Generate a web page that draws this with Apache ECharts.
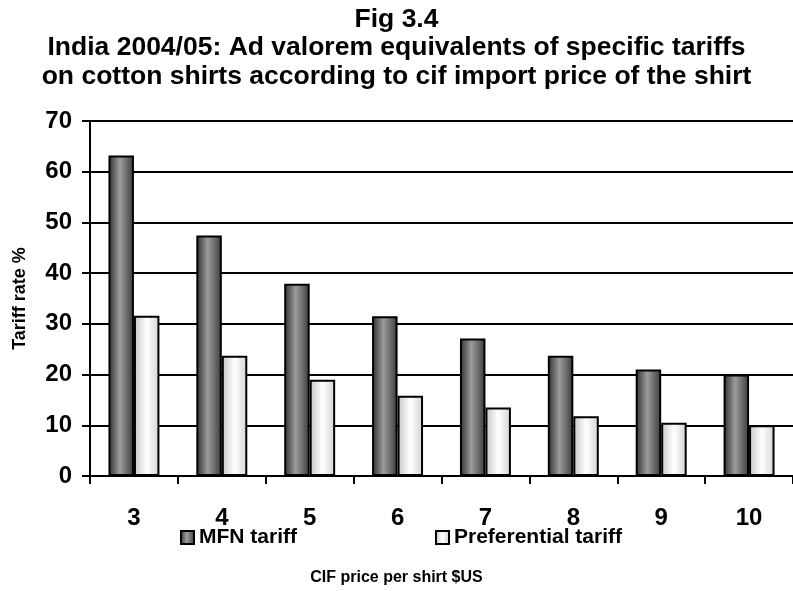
<!DOCTYPE html>
<html>
<head>
<meta charset="utf-8">
<script src="https://cdn.jsdelivr.net/npm/echarts@6/dist/echarts.min.js"></script>
<style>
  html, body { margin: 0; padding: 0; background: #fff; }
  #chart { width: 793px; height: 591px; }
</style>
</head>
<body>
<div id="chart"></div>
<script>
  // data
  const prices = ["3", "4", "5", "6", "7", "8", "9", "10"];
  const mfnTariff = [63.2, 47.4, 37.9, 31.5, 27.1, 23.7, 21.0, 20.0];
  const prefTariff = [31.6, 23.7, 19.0, 15.8, 13.5, 11.8, 10.5, 10.0];
  const yTicks = [0, 10, 20, 30, 40, 50, 60, 70];

  const font = "Liberation Sans, Arial, sans-serif";

  const chart = echarts.init(document.getElementById("chart"));

  const mfnFill = new echarts.graphic.LinearGradient(0, 0, 1, 0, [
    { offset: 0, color: "#2e2e2e" },
    { offset: 0.45, color: "#9c9c9c" },
    { offset: 1, color: "#3a3a3a" }
  ]);
  const prefFill = new echarts.graphic.LinearGradient(0, 0, 1, 0, [
    { offset: 0, color: "#c4c4c4" },
    { offset: 0.5, color: "#ffffff" },
    { offset: 1, color: "#d2d2d2" }
  ]);

  let option = {
    animation: false,
    backgroundColor: "#fff",
    textStyle: { fontFamily: font },
    title: {
      text: "Fig 3.4\nIndia 2004/05: Ad valorem equivalents of specific tariffs\non cotton shirts according to cif import price of the shirt",
      left: "center",
      top: 5,
      padding: 0,
      textStyle: { fontSize: 26.5, fontWeight: "bold", color: "#000", lineHeight: 28.5, fontFamily: font }
    },
    legend: {
      left: 180,
      top: 527,
      padding: 0,
      itemWidth: 13,
      itemHeight: 13,
      itemGap: 138,
      icon: "rect",
      textStyle: { fontSize: 21, fontWeight: "bold", color: "#000" },
      data: ["MFN tariff", "Preferential tariff"]
    },
    grid: { left: 90, top: 121, width: 712, height: 355 },
    xAxis: {
      type: "category",
      data: prices,
      name: "CIF price per shirt $US",
      nameLocation: "middle",
      nameGap: 94,
      // centred on the page rather than on the plot
      nameTextStyle: { fontSize: 16, fontWeight: "bold", color: "#000", padding: [0, 90, 0, 0] },
      axisLine: { lineStyle: { color: "#000", width: 2 } },
      axisTick: { show: true, length: 8, lineStyle: { color: "#000", width: 2 } },
      axisLabel: { fontSize: 24, fontWeight: "bold", color: "#000", margin: 30 }
    },
    yAxis: {
      type: "value",
      min: yTicks[0],
      max: yTicks[yTicks.length - 1],
      interval: 10,
      name: "Tariff rate %",
      nameLocation: "middle",
      nameRotate: 90,
      nameGap: 61,
      nameTextStyle: { fontSize: 18, fontWeight: "bold", color: "#000" },
      axisLine: { show: true, lineStyle: { color: "#000", width: 2 } },
      axisTick: { show: true, length: 8, lineStyle: { color: "#000", width: 2 } },
      axisLabel: { fontSize: 24, fontWeight: "bold", color: "#000", margin: 18 },
      splitLine: { show: true, lineStyle: { color: "#000", width: 2 } }
    },
    series: [
      {
        name: "MFN tariff",
        type: "bar",
        data: mfnTariff,
        barGap: "0%",
        barCategoryGap: "42%",
        itemStyle: { color: mfnFill, borderColor: "#000", borderWidth: 2 }
      },
      {
        name: "Preferential tariff",
        type: "bar",
        data: prefTariff,
        itemStyle: { color: prefFill, borderColor: "#000", borderWidth: 2 }
      }
    ]
  };

  chart.setOption(option);
</script>
</body>
</html>
